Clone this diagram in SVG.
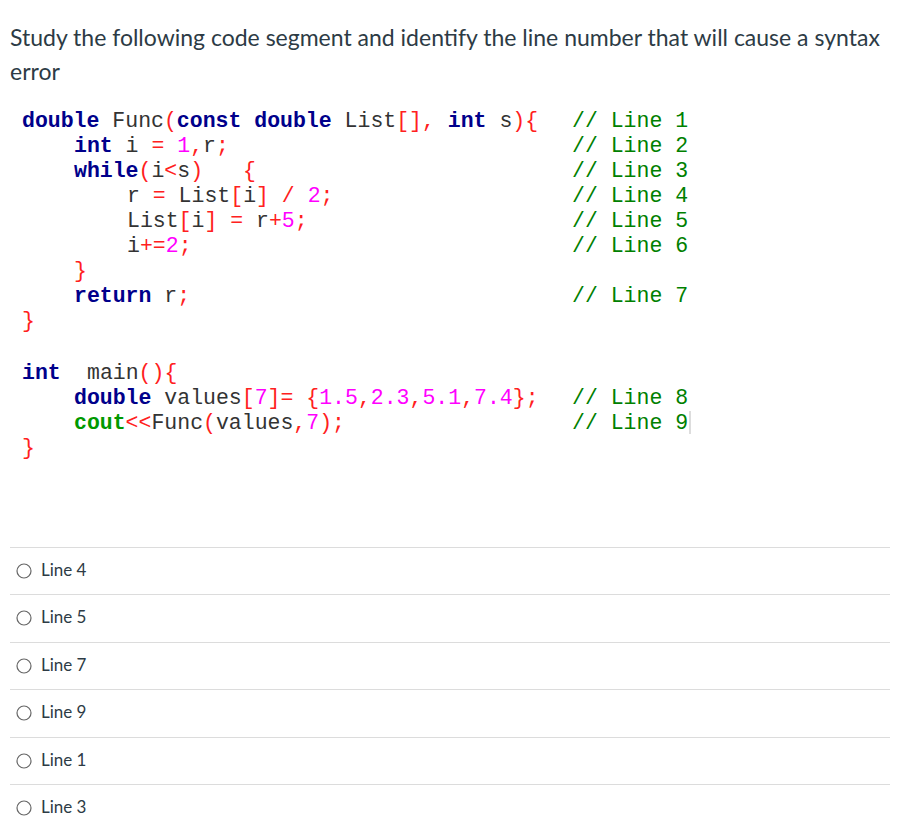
<svg xmlns="http://www.w3.org/2000/svg" width="900" height="836" viewBox="0 0 900 836">
<style>
.h{font-family:Lato,"Liberation Sans",sans-serif;font-size:23px;fill:#2d3b45}
.o{font-family:Lato,"Liberation Sans",sans-serif;font-size:17px;fill:#2d3b45}
.c text{font-family:"Liberation Mono",monospace;font-size:21.5px;fill:#333;white-space:pre}
.c .k{fill:#00008b;font-weight:bold}
.c .r{fill:#ff2020}
.c .m{fill:#ff00ff}
.c .g{fill:#008000}
.c .cg{fill:#009900;font-weight:bold}
.sep{stroke:#dcdcdc;stroke-width:1}
.rad{fill:#fff;stroke:#666;stroke-width:1.2}
</style>
<rect width="900" height="836" fill="#fff"/>
<text class="h" x="10" y="46">Study the following code segment and identify the line number that will cause a syntax</text>
<text class="h" x="10" y="80">error</text>
<g class="c" xml:space="preserve">
<text x="22" y="127"><tspan class="k">double</tspan> Func<tspan class="r">(</tspan><tspan class="k">const double</tspan> List<tspan class="r">[],</tspan> <tspan class="k">int</tspan> s<tspan class="r">){</tspan></text>
<text x="74" y="152"><tspan class="k">int</tspan> i <tspan class="r">=</tspan> <tspan class="m">1</tspan><tspan class="r">,</tspan>r<tspan class="r">;</tspan></text>
<text x="74" y="177"><tspan class="k">while</tspan><tspan class="r">(</tspan>i<tspan class="r">&lt;</tspan>s<tspan class="r">)</tspan><tspan x="243" class="r">{</tspan></text>
<text x="127" y="202">r <tspan class="r">=</tspan> List<tspan class="r">[</tspan>i<tspan class="r">]</tspan> <tspan class="r">/</tspan> <tspan class="m">2</tspan><tspan class="r">;</tspan></text>
<text x="127" y="227">List<tspan class="r">[</tspan>i<tspan class="r">]</tspan> <tspan class="r">=</tspan> r<tspan class="r">+</tspan><tspan class="m">5</tspan><tspan class="r">;</tspan></text>
<text x="127" y="252">i<tspan class="r">+=</tspan><tspan class="m">2</tspan><tspan class="r">;</tspan></text>
<text x="74" y="277" class="r">}</text>
<text x="74" y="302"><tspan class="k">return</tspan> r<tspan class="r">;</tspan></text>
<text x="22" y="327" class="r">}</text>
<text x="22" y="379"><tspan class="k">int</tspan><tspan x="87">main</tspan><tspan class="r">(){</tspan></text>
<text x="74" y="404"><tspan class="k">double</tspan> values<tspan class="r">[</tspan><tspan class="m">7</tspan><tspan class="r">]=</tspan> <tspan class="r">{</tspan><tspan class="m">1.5</tspan><tspan class="r">,</tspan><tspan class="m">2.3</tspan><tspan class="r">,</tspan><tspan class="m">5.1</tspan><tspan class="r">,</tspan><tspan class="m">7.4</tspan><tspan class="r">};</tspan></text>
<text x="74" y="429"><tspan class="cg">cout</tspan><tspan class="r">&lt;&lt;</tspan>Func<tspan class="r">(</tspan>values<tspan class="r">,</tspan><tspan class="m">7</tspan><tspan class="r">);</tspan></text>
<text x="22" y="454" class="r">}</text>
<text class="g" x="572" y="127">// Line 1</text>
<text class="g" x="572" y="152">// Line 2</text>
<text class="g" x="572" y="177">// Line 3</text>
<text class="g" x="572" y="202">// Line 4</text>
<text class="g" x="572" y="227">// Line 5</text>
<text class="g" x="572" y="252">// Line 6</text>
<text class="g" x="572" y="302">// Line 7</text>
<text class="g" x="572" y="404">// Line 8</text>
<text class="g" x="572" y="429">// Line 9</text>
</g>
<line x1="690" y1="411" x2="690" y2="434" stroke="#bbb"/>
<g>
<line class="sep" x1="10" y1="547.5" x2="890" y2="547.5"/>
<line class="sep" x1="10" y1="594.5" x2="890" y2="594.5"/>
<line class="sep" x1="10" y1="642.5" x2="890" y2="642.5"/>
<line class="sep" x1="10" y1="689.5" x2="890" y2="689.5"/>
<line class="sep" x1="10" y1="737.5" x2="890" y2="737.5"/>
<line class="sep" x1="10" y1="784.5" x2="890" y2="784.5"/>
</g>
<g id="opt1"><circle class="rad" cx="24" cy="571" r="7"/><text class="o" x="41" y="576">Line 4</text></g>
<g id="opt2"><circle class="rad" cx="24" cy="618" r="7"/><text class="o" x="41" y="623">Line 5</text></g>
<g id="opt3"><circle class="rad" cx="24" cy="666" r="7"/><text class="o" x="41" y="671">Line 7</text></g>
<g id="opt4"><circle class="rad" cx="24" cy="713" r="7"/><text class="o" x="41" y="718">Line 9</text></g>
<g id="opt5"><circle class="rad" cx="24" cy="761" r="7"/><text class="o" x="41" y="766">Line 1</text></g>
<g id="opt6"><circle class="rad" cx="24" cy="808" r="7"/><text class="o" x="41" y="813">Line 3</text></g>
</svg>
